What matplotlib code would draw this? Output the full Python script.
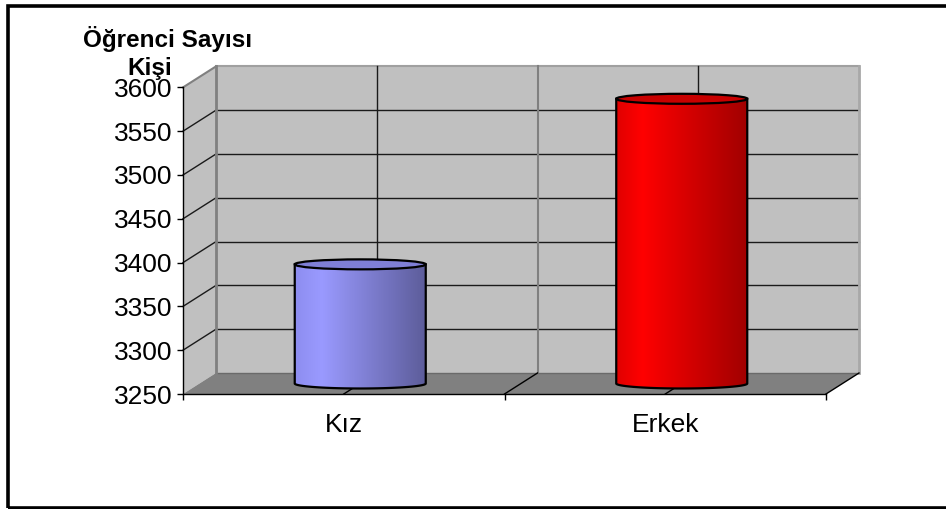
import numpy as np
import matplotlib.pyplot as plt
from matplotlib.patches import Polygon, Ellipse, Rectangle
from matplotlib.colors import LinearSegmentedColormap

categories = ['Kız', 'Erkek']
values = [3386, 3575]
y_ticks = [3250, 3300, 3350, 3400, 3450, 3500, 3550, 3600]
title_lines = ['Öğrenci Sayısı', 'Kişi']
bar_colors = [['#8d8df0', '#9a9aff', '#5c5c99'],
              ['#e00000', '#ff0000', '#a00000']]
cap_colors = ['#7f7fd6', '#c80000']

plt.rcParams['font.family'] = ['Liberation Sans', 'DejaVu Sans']

W, H = 946, 509
fig = plt.figure(figsize=(W / 100, H / 100), dpi=100)
ax = fig.add_axes([183 / W, 1 - 394 / H, 643 / W, 306.6 / H])

n = len(categories)
ymin, ymax = y_ticks[0], y_ticks[-1]

# depth of the pseudo-3d box, in data units
dx = 33 / 643 * n
dy = 21 / 306.6 * (ymax - ymin)

wall = '#c0c0c0'
floor = '#808080'
edge = '#808080'

# back wall, side wall, floor
ax.add_patch(Polygon([(dx, ymin + dy), (n + dx, ymin + dy), (n + dx, ymax + dy), (dx, ymax + dy)],
                     closed=True, facecolor=wall, edgecolor='none', clip_on=False, zorder=0))
ax.add_patch(Polygon([(0, ymin), (dx, ymin + dy), (dx, ymax + dy), (0, ymax)],
                     closed=True, facecolor=wall, edgecolor='none', clip_on=False, zorder=0))
ax.add_patch(Polygon([(0, ymin), (n, ymin), (n + dx, ymin + dy), (dx, ymin + dy)],
                     closed=True, facecolor=floor, edgecolor='none', clip_on=False, zorder=0))

# horizontal gridlines on back and side wall
for v in y_ticks[1:-1]:
    ax.plot([dx, n + dx], [v + dy, v + dy], color='#1a1a1a', lw=1, clip_on=False, zorder=1)
    ax.plot([0, dx], [v, v + dy], color='#1a1a1a', lw=1, clip_on=False, zorder=1)
ax.plot([0, dx], [ymax, ymax + dy], color=edge, lw=1.5, clip_on=False, zorder=1)
ax.plot([dx, n + dx], [ymax + dy, ymax + dy], color='#a0a0a0', lw=1.5, clip_on=False, zorder=1)
ax.plot([dx, n + dx], [ymin + dy, ymin + dy], color='#6a6a6a', lw=1, clip_on=False, zorder=1)
ax.plot([dx, dx], [ymin + dy, ymax + dy], color=edge, lw=2, clip_on=False, zorder=1)
ax.plot([n + dx, n + dx], [ymin + dy, ymax + dy], color='#a8a8a8', lw=2, clip_on=False, zorder=1)

# vertical gridlines on back wall and lines across the floor
for k in range(1, 2 * n):
    xv = k / 2
    col = edge if k % 2 == 0 else '#1a1a1a'
    ax.plot([xv + dx, xv + dx], [ymin + dy, ymax + dy], color=col, lw=1.5 if k % 2 == 0 else 1,
            clip_on=False, zorder=1)
    ax.plot([xv, xv + dx], [ymin, ymin + dy], color='black', lw=1, clip_on=False, zorder=1)
ax.plot([n, n + dx], [ymin, ymin + dy], color='black', lw=1, clip_on=False, zorder=1)

# cylinders
bw = 0.4075
eh = 11.4
t = np.linspace(np.pi, 2 * np.pi, 80)
for i, v in enumerate(values):
    cx = i + 0.5 + dx / 2
    x0, x1 = cx - bw / 2, cx + bw / 2
    yb = ymin + dy / 2
    yt = v + dy / 2
    # lower half of the bottom ellipse, left to right
    arc = np.column_stack([cx - bw / 2 * np.cos(t - np.pi), yb + eh / 2 * np.sin(t)])
    pts = [(x0, yt)] + [tuple(p) for p in arc] + [(x1, yt)]
    body = Polygon(pts, closed=True, facecolor='none', edgecolor='black', lw=1.6, zorder=5)
    ax.add_patch(body)
    cmap = LinearSegmentedColormap.from_list('cyl%d' % i, list(zip([0, 0.2, 1], bar_colors[i])))
    grad = np.linspace(0, 1, 256).reshape(1, -1)
    im = ax.imshow(grad, cmap=cmap, aspect='auto', extent=[x0, x1, yb - eh / 2, yt],
                   interpolation='bilinear', zorder=4)
    im.set_clip_path(body)
    ax.add_patch(Ellipse((cx, yt), bw, eh, facecolor=cap_colors[i], edgecolor='black', lw=1.6, zorder=6))

ax.set_xlim(0, n)
ax.set_ylim(ymin, ymax)

# axes and ticks
for s in ['top', 'right']:
    ax.spines[s].set_visible(False)
for s in ['left', 'bottom']:
    ax.spines[s].set_color('black')
    ax.spines[s].set_linewidth(1)
    ax.spines[s].set_zorder(7)
ax.set_yticks(y_ticks)
ax.set_yticklabels([str(v) for v in y_ticks])
ax.tick_params(axis='y', length=4.3, width=1, pad=3.5, labelsize=19, color='black')
ax.set_xticks(np.arange(n + 1))
ax.set_xticklabels([])
ax.set_xticks(np.arange(n) + 0.5, minor=True)
ax.set_xticklabels(categories, minor=True)
ax.tick_params(axis='x', which='major', length=4.3, width=1, color='black')
ax.tick_params(axis='x', which='minor', length=0, pad=13.5, labelsize=19)
ax.set_facecolor('none')

# axis title
fig.text(167.5 / W, 1 - 47 / H, title_lines[0], ha='center', va='baseline',
         fontsize=17.5, fontweight='bold')
fig.text(172 / W, 1 - 75 / H, title_lines[1], ha='right', va='baseline',
         fontsize=17.5, fontweight='bold')

# chart border (cut off on the right)
fig.add_artist(Rectangle((7.5 / W, 1.5 / H), 1.0, (507.5 - 6) / H, transform=fig.transFigure,
                         fill=False, edgecolor='black', lw=2.6))

fig.savefig('out.png', dpi=100)
